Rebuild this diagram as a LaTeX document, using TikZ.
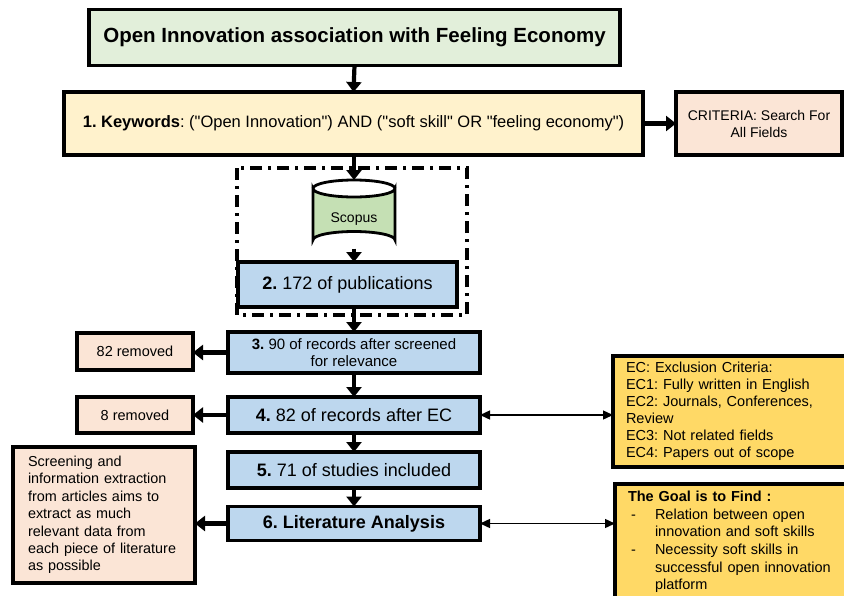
\documentclass[tikz,border=0pt]{standalone}
\usepackage{fontspec}
\setmainfont{Liberation Sans}
\usetikzlibrary{arrows.meta}
\definecolor{titlegreen}{HTML}{E2EFDA}
\definecolor{kwyellow}{HTML}{FFF2CC}
\definecolor{peach}{HTML}{FBE5D6}
\definecolor{stepblue}{HTML}{BDD7EE}
\definecolor{cylgreen}{HTML}{C5E0B4}
\definecolor{gold}{HTML}{FFD966}
\newcommand{\fsz}[2]{\fontsize{#1}{#2}\selectfont}
\newcommand{\dq}{\textquotedbl}
\frenchspacing
\begin{document}
\begin{tikzpicture}[x=1pt,y=-1pt,
  box/.style={draw=black,line width=3.4pt,rectangle,inner sep=0pt,outer sep=0pt,align=center},
  bigarrow/.style={line width=4.2pt,-{Triangle[length=10pt,width=15pt]}},
  thinarrow/.style={line width=1.4pt,{Triangle[length=10pt,width=9pt]}-{Triangle[length=10pt,width=9pt]}},
  dashbox/.style={line width=3.4pt,dash pattern=on 12pt off 6pt on 3pt off 6pt}]
\useasboundingbox (0,0) rectangle (844,595);
\clip (0,0) rectangle (844,595);
\fill[white] (0,0) rectangle (844,595);

% title and keywords
\node[box,fill=titlegreen,minimum width=531pt,minimum height=56pt,font=\fsz{20.5}{24}\bfseries] (title) at (354.5,37.5) {Open Innovation association with Feeling Economy};
\node[box,fill=kwyellow,minimum width=579pt,minimum height=63pt,font=\fsz{16.5}{20}] (kw) at (353.5,123.5) {\textbf{1. Keywords}: (\dq Open Innovation\dq) AND (\dq soft skill\dq\ OR \dq feeling economy\dq)};
\node[box,fill=peach,minimum width=166pt,minimum height=63pt,font=\fsz{14}{17}] (crit) at (759,123.5) {CRITERIA: Search For\\All Fields};

% dash-dot frame
\draw[dashbox] (237,168) rectangle (467,315);

% Scopus cylinder
\node[minimum width=82pt,minimum height=68.5pt,inner sep=0pt,outer sep=0pt] (scopus) at (354,214.25) {};
\path[draw=black,fill=cylgreen,line width=2.8pt] (313,188.5) -- (313,240) arc (180:360:41 and 8.5) -- (395,188.5) arc (0:180:41 and 8.5) -- cycle;
\draw[line width=2.8pt] (313,188.5) arc (180:360:41 and 8.5);
\node[font=\fsz{14}{17}] (scopustext) at (354,219) {Scopus};

% steps
\node[box,fill=stepblue,minimum width=219pt,minimum height=45pt,font=\fsz{18}{21}] (b2) at (347.5,284.5) {\textbf{2.} 172 of publications};
\node[box,fill=stepblue,minimum width=252pt,minimum height=41pt,font=\fsz{15}{17}] (b3) at (354,352.5) {\textbf{3.} 90 of records after screened\\for relevance};
\node[box,fill=stepblue,minimum width=252pt,minimum height=36pt,font=\fsz{18}{21}] (b4) at (354,415) {\textbf{4.} 82 of records after EC};
\node[box,fill=stepblue,minimum width=252pt,minimum height=36pt,font=\fsz{18}{21}] (b5) at (354,470) {\textbf{5.} 71 of studies included};
\node[box,fill=stepblue,minimum width=252pt,minimum height=34pt,font=\fsz{18}{21}\bfseries] (b6) at (354,523.5) {6. Literature Analysis};

% left side
\node[box,fill=peach,minimum width=116pt,minimum height=37pt,font=\fsz{14.5}{17}] (r82) at (135,351.5) {82 removed};
\node[box,fill=peach,minimum width=116pt,minimum height=36pt,font=\fsz{14.5}{17}] (r8) at (135,415) {8 removed};
\node[box,fill=peach,minimum width=182pt,minimum height=136pt,font=\fsz{14.4}{17.4},align=left,text width=152pt] (scr) at (104,515) {Screening and\\information extraction\\from articles aims to\\extract as much\\relevant data from\\each piece of literature\\as possible};

% right side
\node[box,fill=gold,minimum width=235pt,minimum height=111pt,font=\fsz{14.5}{17},align=left,text width=209pt] (ec) at (730.5,411.5) {EC: Exclusion Criteria:\\EC1: Fully written in English\\EC2: Journals, Conferences,\\Review\\EC3: Not related fields\\EC4: Papers out of scope};
\node[box,fill=gold,minimum width=233pt,minimum height=116pt,font=\fsz{14.5}{17.6},align=left,text width=207pt] (goal) at (731.5,542) {\textbf{The Goal is to Find :}\\\makebox[27pt][l]{\hspace{3pt}-}Relation between open\\\hspace*{27pt}innovation and soft skills\\\makebox[27pt][l]{\hspace{3pt}-}Necessity soft skills in\\\hspace*{27pt}successful open innovation\\\hspace*{27pt}platform};

% connectors
\draw[bigarrow] (title.south) -- (kw.north);
\draw[bigarrow] (kw.east) -- (crit.west);
\draw[bigarrow] (kw.south -| scopus.north) -- (scopus.north);
\draw[bigarrow] (scopus.south) -- (scopus.south |- b2.north);
\draw[bigarrow] (b2.south -| b3.north) -- (b3.north);
\draw[bigarrow] (b3.west) -- (b3.west -| r82.east);
\draw[bigarrow] (b3.south) -- (b4.north);
\draw[bigarrow] (b4.west) -- (r8.east);
\draw[bigarrow] (b4.south) -- (b5.north);
\draw[bigarrow] (b5.south) -- (b6.north);
\draw[bigarrow] (b6.west) -- (b6.west -| scr.east);
\draw[thinarrow] (b4.east) -- (b4.east -| ec.west);
\draw[thinarrow] (b6.east) -- (b6.east -| goal.west);
\end{tikzpicture}
\end{document}
